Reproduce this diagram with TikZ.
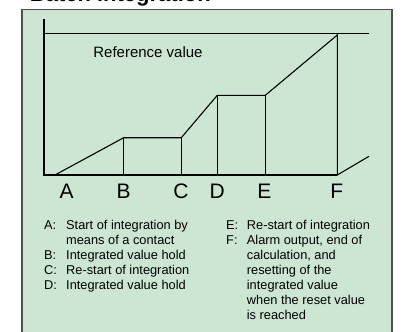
\documentclass[tikz,border=0pt]{standalone}
\usepackage{fontspec}
\setmainfont{Liberation Sans}
\definecolor{panel}{RGB}{205,230,212}
\definecolor{framegray}{RGB}{80,80,80}
\begin{document}
\begin{tikzpicture}[x=1pt,y=-1pt,
  curve/.style={line width=1.1pt, black},
  axisline/.style={line width=2pt, black},
  lbl/.style={font=\fontsize{21}{25}\selectfont, anchor=base, inner sep=0pt},
  legtag/.style={font=\fontsize{12.8}{15}\selectfont, anchor=base west, inner sep=0pt},
  legtext/.style={font=\fontsize{12.8}{15}\selectfont, anchor=base west, inner sep=0pt},
]
\useasboundingbox (0,0) rectangle (413,332);
% title (mostly above the page)
\node[anchor=base west, inner sep=0pt, font=\fontsize{22}{26}\selectfont\bfseries] (title) at (22,1.8) {•Batch integration};
% panel
\draw[fill=panel, draw=framegray, line width=1.3pt] (22,9.3) rectangle (392,345);
% coordinates
\coordinate (origin) at (43.7,175);
\coordinate (top) at (43.7,19.3);
\coordinate (refL) at (43.7,33.5);
\coordinate (refR) at (369,33.5);
\coordinate (pA) at (55,175);
\coordinate (pB) at (123.7,137.7);
\coordinate (pBb) at (123.7,175);
\coordinate (pC) at (181.3,137.7);
\coordinate (pCb) at (181.3,175);
\coordinate (pD) at (217.3,95.3);
\coordinate (pDb) at (217.3,175);
\coordinate (pE) at (265.3,95.3);
\coordinate (pEb) at (265.3,175);
\coordinate (pF) at (337.3,35);
\coordinate (pFb) at (337.3,175);
\coordinate (tail) at (369,156.3);
% reference line
\draw[curve] (refL) -- (refR);
\node[font=\fontsize{15}{18}\selectfont, inner sep=0pt] (reflabel) at (148,52.3) {Reference value};
% integration curve
\draw[curve] (pA) -- (pB) -- (pC) -- (pD) -- (pE) -- (pF) -- (pFb) -- (tail);
\draw[curve] (pB) -- (pBb);
\draw[curve] (pC) -- (pCb);
\draw[curve] (pD) -- (pDb);
\draw[curve] (pE) -- (pEb);
% axes
\draw[axisline] (top) -- (origin) -- (pFb);
% letters
\node[lbl] (lA) at (66.7,198) {A};
\node[lbl] (lB) at (123.7,198) {B};
\node[lbl] (lC) at (181,198) {C};
\node[lbl] (lD) at (217.3,198) {D};
\node[lbl] (lE) at (264.3,198) {E};
\node[lbl] (lF) at (336.7,198) {F};
% legend left
\node[legtag] (tA) at (44,229.3) {A:};
\node[legtext] (dA1) at (66,229.3) {Start of integration by};
\node[legtext] (dA2) at (66,244.3) {means of a contact};
\node[legtag] (tB) at (44,259.3) {B:};
\node[legtext] (dB) at (66,259.3) {Integrated value hold};
\node[legtag] (tC) at (44,274.3) {C:};
\node[legtext] (dC) at (66,274.3) {Re-start of integration};
\node[legtag] (tD) at (44,289.3) {D:};
\node[legtext] (dD) at (66,289.3) {Integrated value hold};
% legend right
\node[legtag] (tE) at (226,229.3) {E:};
\node[legtext] (dE) at (246.7,229.3) {Re-start of integration};
\node[legtag] (tF) at (226,244.3) {F:};
\node[legtext] (dF1) at (246.7,244.3) {Alarm output, end of};
\node[legtext] (dF2) at (246.7,259.3) {calculation, and};
\node[legtext] (dF3) at (246.7,274.3) {resetting of the};
\node[legtext] (dF4) at (246.7,289.3) {integrated value};
\node[legtext] (dF5) at (246.7,304.3) {when the reset value};
\node[legtext] (dF6) at (246.7,319.3) {is reached};
\end{tikzpicture}
\end{document}
